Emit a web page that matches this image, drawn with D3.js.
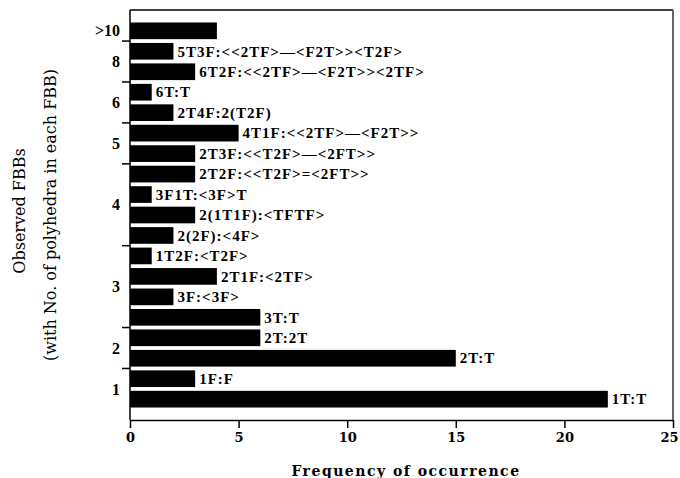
<!DOCTYPE html>
<html>
<head>
<meta charset="utf-8">
<script src="https://cdn.jsdelivr.net/npm/d3@7"></script>
<style>
  body { margin: 0; background: #fff; }
  svg { display: block; }
  .bar-label { font-family: "Liberation Serif", "Times New Roman", serif; font-weight: bold; font-size: 15px; letter-spacing: 1px; }
  .group-label { font-family: "Liberation Serif", "Times New Roman", serif; font-weight: bold; font-size: 16px; }
  .x-axis text { font-family: "DejaVu Serif", serif; font-weight: bold; font-size: 13px; }
  .x-title { font-family: "DejaVu Serif", serif; font-weight: bold; font-size: 14px; letter-spacing: 1.5px; }
  .y-title { font-family: "DejaVu Serif", serif; font-size: 16px; }
</style>
</head>
<body>
<div id="chart"></div>
<script>
// Frequency of observed FBBs, grouped by number of polyhedra

// bars, top to bottom (first bar, the >10 group, carries no label)
const fbbs = [
  ">10", "5T3F:<<2TF>—<F2T>><T2F>", "6T2F:<<2TF>—<F2T>><2TF>",
  "6T:T", "2T4F:2(T2F)",
  "4T1F:<<2TF>—<F2T>>", "2T3F:<<T2F>—<2FT>>",
  "2T2F:<<T2F>=<2FT>>", "3F1T:<3F>T", "2(1T1F):<TFTF>", "2(2F):<4F>",
  "1T2F:<T2F>", "2T1F:<2TF>", "3F:<3F>", "3T:T",
  "2T:2T", "2T:T",
  "1F:F", "1T:T"
];
const freq = [4, 2, 3, 1, 2, 5, 3, 3, 1, 3, 2, 1, 4, 2, 6, 6, 15, 3, 22];

// groups on the y axis (number of polyhedra) and how many bars each holds
const groupNames = [">10", "8", "6", "5", "4", "3", "2", "1"];
const groupSizes = [1, 2, 2, 2, 4, 4, 2, 2];

const xTicks = [0, 5, 10, 15, 20, 25];

const svg = d3.select("#chart").
append("svg").
attr("width", 680).
attr("height", 478);

const margin = { top: 10, right: 7, bottom: 58, left: 130 };
const W = 680, H = 478;

const x = d3.scaleLinear().
domain([0, 25]).
range([margin.left, W - margin.right]);

const y = d3.scaleBand().
domain(fbbs).
range([margin.top, H - margin.bottom]).
paddingInner(0.185).
paddingOuter(0.61);

// bars
svg.selectAll(".bar").
data(fbbs).
join("rect").
attr("class", "bar").
attr("x", x(0)).
attr("y", d => y(d)).
attr("width", (d, i) => x(freq[i]) - x(0)).
attr("height", y.bandwidth()).
attr("fill", "#000");

// labels at bar ends
svg.selectAll(".bar-label").
data(fbbs.slice(1)).
join("text").
attr("class", "bar-label").
attr("x", (d, i) => x(freq[i + 1]) + 4).
attr("y", d => y(d) + y.bandwidth() / 2).
attr("dy", "0.35em").
text(d => d);

// x axis
const xAxis = svg.append("g").
attr("class", "x-axis").
attr("transform", `translate(0 ${H - margin.bottom})`).
call(d3.axisBottom(x).tickValues(xTicks).tickSize(8).tickSizeOuter(0).tickPadding(5));

xAxis.select(".domain").attr("stroke-width", 1.5);
xAxis.selectAll(".tick line").attr("stroke-width", 1.5);
// keep the last label inside the window
xAxis.selectAll(".tick text").filter(d => d === 25).attr("dx", -4);

// frame: left, top, right
const frame = svg.append("g").attr("stroke", "#000").attr("stroke-width", 1.5);
frame.append("line").
attr("x1", x(0)).attr("x2", x(0)).
attr("y1", margin.top).attr("y2", H - margin.bottom);
frame.append("line").
attr("x1", x(0)).attr("x2", x(25)).
attr("y1", margin.top).attr("y2", margin.top);
frame.append("line").
attr("x1", x(25)).attr("x2", x(25)).
attr("y1", margin.top).attr("y2", H - margin.bottom).
attr("stroke", "#666").attr("stroke-width", 2);

// group separators and labels on the y axis
const step = y.step();
let start = 0;
groupNames.forEach((g, gi) => {
  const first = fbbs[start];
  const last = fbbs[start + groupSizes[gi] - 1];
  const yMid = (y(first) + y(last) + y.bandwidth()) / 2;

  svg.append("text").
  attr("class", "group-label").
  attr("x", 120).
  attr("y", yMid).
  attr("dy", "0.35em").
  attr("text-anchor", "end").
  text(g);

  if (gi < groupNames.length - 1) {
    const yb = y(last) + y.bandwidth() + (step - y.bandwidth()) / 2;
    svg.append("line").
    attr("x1", x(0) - 8).attr("x2", x(0)).
    attr("y1", yb).attr("y2", yb).
    attr("stroke", "#000").
    attr("stroke-width", 1.5);
  }
  start += groupSizes[gi];
});

// axis titles
svg.append("text").
attr("class", "x-title").
attr("x", 406).
attr("y", 476).
attr("text-anchor", "middle").
text("Frequency of occurrence");

svg.append("text").
attr("class", "y-title").
attr("transform", "translate(19 211) rotate(-90)").
attr("dy", "0.35em").
attr("text-anchor", "middle").
text("Observed FBBs");

svg.append("text").
attr("class", "y-title").
attr("transform", "translate(50 215) rotate(-90)").
attr("dy", "0.35em").
attr("text-anchor", "middle").
text("(with No. of polyhedra in each FBB)");
</script>
</body>
</html>
